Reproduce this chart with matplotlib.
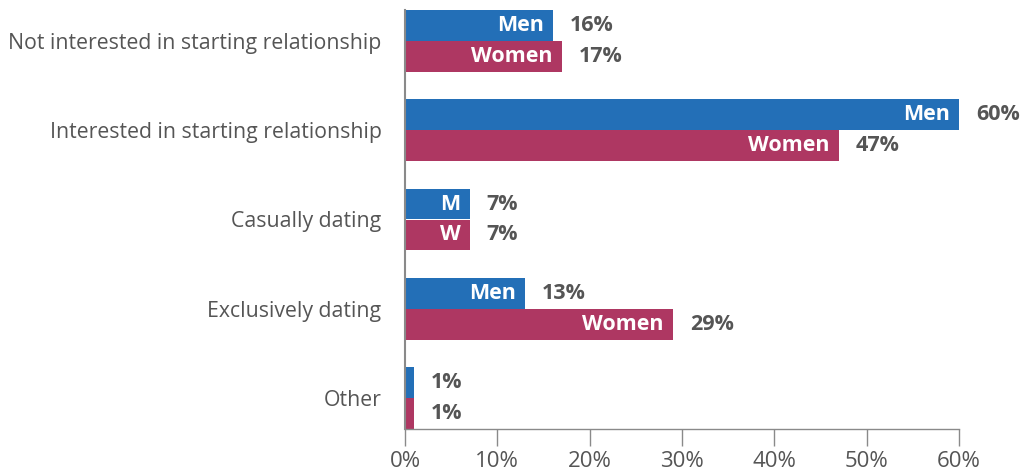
import matplotlib
matplotlib.use("Agg")
import matplotlib.pyplot as plt
import numpy as np

categories = ["Not interested in starting relationship",
              "Interested in starting relationship",
              "Casually dating",
              "Exclusively dating",
              "Other"]
men = [16, 60, 7, 13, 1]
women = [17, 47, 7, 29, 1]
men_labels = ["Men", "Men", "M", "Men", ""]
women_labels = ["Women", "Women", "W", "Women", ""]
xticks = [0, 10, 20, 30, 40, 50, 60]
xtick_labels = ["0%", "10%", "20%", "30%", "40%", "50%", "60%"]

BLUE = "#236fb7"
MAG = "#ae3762"
GRAY = "#555555"
AX = "#8a8a8a"

plt.rcParams['font.family'] = ['Open Sans', 'DejaVu Sans']

fig = plt.figure(figsize=(10.23, 4.76), dpi=100)
ax = fig.add_axes([405/1023, (476-429)/476, (959-405)/1023, (429-10)/476])

y = np.arange(len(categories))
h = 0.346
ax.barh(y - h/2, men, height=h, color=BLUE)
ax.barh(y + h/2, women, height=h, color=MAG)

ax.set_ylim(4 + h, -h)
ax.set_xlim(0, 60)

for i in range(len(categories)):
    for val, lab, off in ((men[i], men_labels[i], -h/2), (women[i], women_labels[i], h/2)):
        if lab:
            ax.annotate(lab, (val, y[i] + off), xytext=(-9, 0), textcoords="offset pixels",
                        ha="right", va="center", color="white", fontsize=15.5, fontweight="bold")
        ax.annotate(f"{val}%", (val, y[i] + off), xytext=(17, 0), textcoords="offset pixels",
                    ha="left", va="center", color=GRAY, fontsize=15.5, fontweight="bold")

ax.set_yticks(y)
ax.set_yticklabels(categories, fontsize=15.3, color=GRAY)
ax.tick_params(axis="y", length=0, pad=17)
ax.set_xticks(xticks)
ax.set_xticklabels(xtick_labels, fontsize=16, color=GRAY)
ax.tick_params(axis="x", length=12, width=1, color=AX, pad=4)

for s in ("top", "right"):
    ax.spines[s].set_visible(False)
ax.spines["left"].set_color(AX)
ax.spines["left"].set_linewidth(1.5)
ax.spines["bottom"].set_color(AX)
ax.spines["bottom"].set_linewidth(1)

fig.savefig("out.png", dpi=100, facecolor="white")
